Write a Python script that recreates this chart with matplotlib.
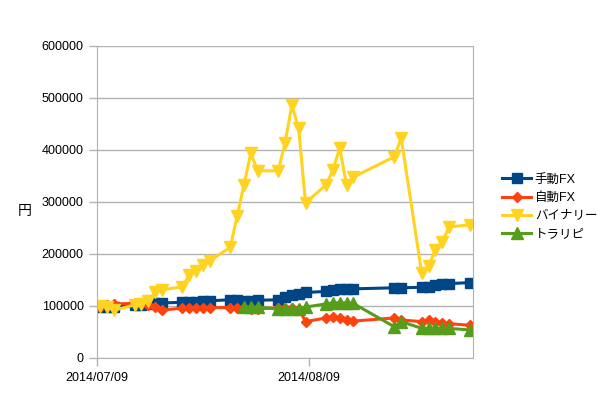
import matplotlib
matplotlib.use('Agg')
import matplotlib.pyplot as plt
import pandas as pd

plt.rcParams['font.family'] = ['Liberation Sans', 'Noto Sans CJK JP', 'DejaVu Sans']

# trading days shared by the series
days_all = ['2014-07-09', '2014-07-10', '2014-07-11', '2014-07-14', '2014-07-15', '2014-07-16',
            '2014-07-17', '2014-07-18', '2014-07-21', '2014-07-22', '2014-07-23', '2014-07-24',
            '2014-07-25', '2014-07-28', '2014-07-29', '2014-07-30', '2014-07-31', '2014-08-01',
            '2014-08-04', '2014-08-05', '2014-08-06', '2014-08-07', '2014-08-08', '2014-08-11',
            '2014-08-12', '2014-08-13', '2014-08-14', '2014-08-15', '2014-08-21', '2014-08-22',
            '2014-08-25', '2014-08-26', '2014-08-27', '2014-08-28', '2014-08-29', '2014-09-01']

manual_fx = [98000, 98000, 99000, 101000, 102000, 103000, 105000, 106000, 107000, 108000,
             108000, 109000, 110000, 112000, 111000, 110000, 110000, 111000, 112000, 117000,
             121000, 124000, 126000, 128000, 130000, 132000, 133000, 133000, 135000, 135000,
             136000, 137000, 140000, 142000, 143000, 145000]

auto_fx = [99000, 101000, 104000, 105000, 104000, 102000, 98000, 92000, 96000, 96000,
           96000, 96000, 97000, 97000, 96000, 96000, 95000, 95000, 96000, 96000,
           96000, 95000, 70000, 77000, 79000, 77000, 73000, 71000, 77000, 73000,
           70000, 73000, 70000, 68000, 66000, 63000]

binary = [100000, 98000, 92000, 102000, 104000, 110000, 127000, 131000, 137000, 160000,
          167000, 179000, 187000, 213000, 273000, 333000, 394000, 360000, 360000, 413000,
          486000, 442000, 298000, 333000, 361000, 404000, 333000, 348000, 387000, 423000,
          163000, 177000, 208000, 223000, 252000, 256000]

days_trap = ['2014-07-30', '2014-07-31', '2014-08-01', '2014-08-04', '2014-08-05', '2014-08-06',
             '2014-08-07', '2014-08-08', '2014-08-11', '2014-08-12', '2014-08-13', '2014-08-14',
             '2014-08-15', '2014-08-21', '2014-08-22', '2014-08-25', '2014-08-26', '2014-08-27',
             '2014-08-28', '2014-08-29', '2014-09-01']
trap_repeat = [98000, 98000, 98000, 94000, 94000, 94000, 95000, 98000, 104000, 106000,
               106000, 106000, 105000, 60000, 70000, 57000, 57000, 57000, 57000, 57000, 54000]

start = pd.Timestamp('2014-07-09')


def to_x(dates):
    # days since start, points sit in the middle of each day
    return [(pd.Timestamp(d) - start).days + 0.5 for d in dates]


fig = plt.figure(figsize=(6.05, 4.08), dpi=100)
ax = fig.add_axes([97 / 605, 50 / 408, 376 / 605, 312 / 408])

ax.plot(to_x(days_all), manual_fx, color='#004586', lw=2.2, marker='s', ms=7, label='手動FX')
ax.plot(to_x(days_all), auto_fx, color='#ff420e', lw=2.2, marker='D', ms=5.5, label='自動FX')
ax.plot(to_x(days_all), binary, color='#ffd320', lw=2.2, marker='v', ms=8, label='バイナリー')
ax.plot(to_x(days_trap), trap_repeat, color='#579d1c', lw=2.2, marker='^', ms=8, label='トラリピ')

ax.set_xlim(0, 55)
ax.set_ylim(0, 600000)
ax.set_yticks(range(0, 600001, 100000))
ax.set_xticks([0, 31])
ax.set_xticklabels(['2014/07/09', '2014/08/09'])
ax.grid(axis='y', color='#b3b3b3', lw=1)
ax.set_axisbelow(True)
for s in ax.spines.values():
    s.set_color('#b3b3b3')
ax.spines['top'].set_visible(False)
ax.tick_params(colors='#b3b3b3', labelcolor='black', labelsize=9, length=6, width=1)
ax.tick_params(axis='x', pad=4)

fig.text(25 / 605, 1 - 211 / 408, '円', fontsize=10, ha='center', va='center',
         family=['Noto Sans CJK JP'])

ax.legend(loc='center left', bbox_to_anchor=(496 / 605, 1 - 207 / 408),
          bbox_transform=fig.transFigure, frameon=False, fontsize=9,
          handlelength=2.3, labelspacing=0.5, handletextpad=0.3, borderpad=0)

fig.savefig('out.png', dpi=100)
